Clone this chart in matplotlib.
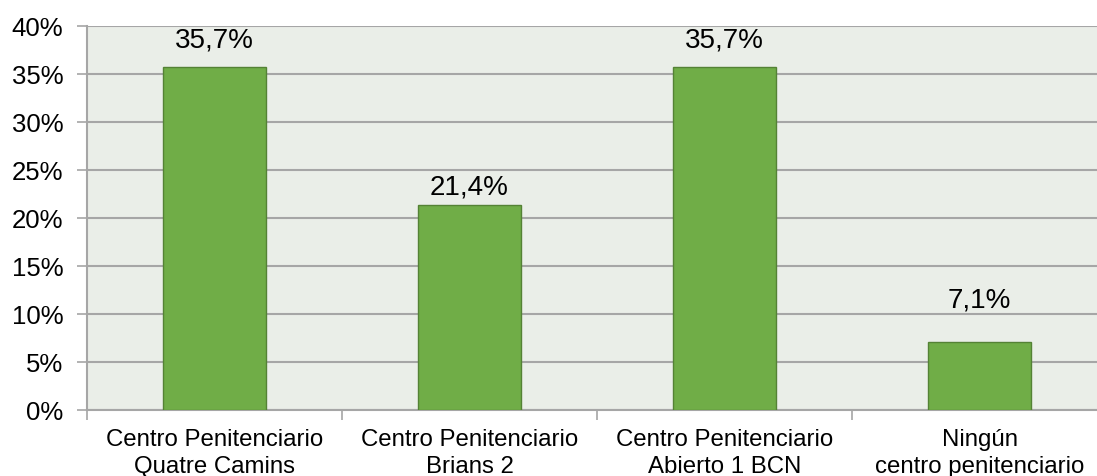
import matplotlib.pyplot as plt
import numpy as np

# datos
categorias = ["Centro Penitenciario\nQuatre Camins", "Centro Penitenciario\nBrians 2",
              "Centro Penitenciario\nAbierto 1 BCN", "Ningún\ncentro penitenciario"]
valores = [35.7, 21.4, 35.7, 7.1]
etiquetas = ["35,7%", "21,4%", "35,7%", "7,1%"]
yticks = [0, 5, 10, 15, 20, 25, 30, 35, 40]

# separación (pt) de cada etiqueta sobre su barra
desplaz = [14.4, 7.2, 14.4, 24.5]

plt.rcParams['font.family'] = ['Liberation Sans', 'DejaVu Sans']

fig = plt.figure(figsize=(10.97, 4.76), dpi=100)
ax = fig.add_axes([87 / 1097, 1 - 410 / 476, 1020 / 1097, 384 / 476])
ax.set_facecolor('#EAEEE8')

x = np.arange(len(valores))
ax.bar(x, valores, width=0.404, color='#70AD47', edgecolor='#548235', linewidth=1, zorder=3)

for xi, v, t, d in zip(x, valores, etiquetas, desplaz):
    ax.annotate(t, (xi, v), xytext=(0, d), textcoords='offset points',
                ha='center', va='baseline', fontsize=20, color='black')

ax.set_xlim(-0.5, 3.5)
ax.set_ylim(0, 40)
ax.set_yticks(yticks)
ax.set_yticklabels([f"{t}%" for t in yticks], fontsize=18.5)
ax.yaxis.grid(True, color='#A6A6A6', linewidth=1.5, zorder=0)

# ticks del eje x entre categorías
ax.set_xticks([-0.5, 0.5, 1.5, 2.5, 3.5])
ax.set_xticklabels([])
ax.set_xticks(x, minor=True)
ax.set_xticklabels(categorias, minor=True, fontsize=17.3, linespacing=1.27)
ax.tick_params(axis='x', which='minor', length=0, pad=14)
ax.tick_params(axis='x', which='major', length=7, color='#A6A6A6', width=1.2)
ax.tick_params(axis='y', length=7, color='#A6A6A6', width=1.2, pad=10)

for s in ['top', 'right']:
    ax.spines[s].set_visible(False)
for s in ['left', 'bottom']:
    ax.spines[s].set_color('#A6A6A6')
    ax.spines[s].set_linewidth(1.5)

fig.savefig('out.png', dpi=100)
